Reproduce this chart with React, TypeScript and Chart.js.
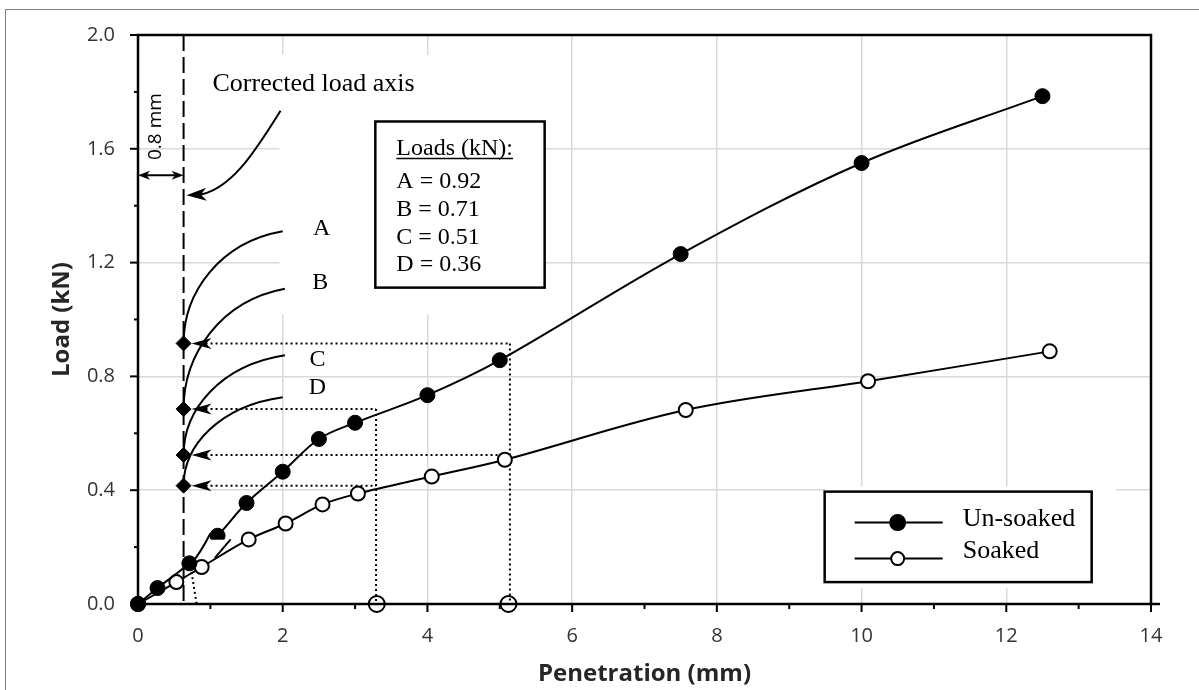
import { useEffect, useRef } from 'react';
import { Chart, registerables } from 'chart.js';

Chart.register(...registerables);

// ---- data ----
const unsoakedX = [0, 0.27, 0.71, 1.1, 1.5, 2.0, 2.5, 3.0, 4.0, 5.0, 7.5, 10.0, 12.5];
const unsoakedY = [0, 0.056, 0.143, 0.24, 0.355, 0.465, 0.58, 0.637, 0.734, 0.857, 1.23, 1.55, 1.785];

const soakedX = [0, 0.53, 0.88, 1.53, 2.04, 2.55, 3.04, 4.06, 5.07, 7.57, 10.09, 12.6];
const soakedY = [0, 0.077, 0.13, 0.227, 0.283, 0.35, 0.388, 0.448, 0.507, 0.682, 0.783, 0.888];

// corrected load axis and the corrected loads
const correctedAxisX = 0.63;
const diamondY = [0.916, 0.685, 0.524, 0.416];
const dottedEndX = [5.14, 3.29, 5.14, 3.29];
const axisMarkX = [3.3, 5.12];
const curveLabels = ['A', 'B', 'C', 'D'];
const curveEndX = [2.0, 2.03, 2.03, 2.0];
const curveEndY = [1.31, 1.108, 0.874, 0.727];
const curveLabelX = [2.54, 2.52, 2.48, 2.48];
const curveLabelY = [1.318, 1.129, 0.86, 0.759];
const loadsTitle = 'Loads (kN):';
const loadsLines = ['A = 0.92', 'B = 0.71', 'C = 0.51', 'D = 0.36'];
const seriesNames = ['Un-soaked', 'Soaked'];

const xTickLabels = ['0', '2', '4', '6', '8', '10', '12', '14'];
const yTickLabels = ['0.0', '0.4', '0.8', '1.2', '1.6', '2.0'];

const SERIF = '"Liberation Serif", "Times New Roman", serif';
const SANS = '"Open Sans", "Noto Sans", sans-serif';

function isMajorY(v: number) {
  return Math.round(v * 10) % 4 === 0;
}

function stealth(ctx: CanvasRenderingContext2D, tx: number, ty: number, dx: number, dy: number, len: number, half: number) {
  const m = Math.hypot(dx, dy) || 1;
  dx /= m; dy /= m;
  const bx = tx - dx * len, by = ty - dy * len;
  const nx = -dy, ny = dx;
  ctx.beginPath();
  ctx.moveTo(tx, ty);
  ctx.lineTo(bx + nx * half, by + ny * half);
  ctx.lineTo(tx - dx * len * 0.72, ty - dy * len * 0.72);
  ctx.lineTo(bx - nx * half, by - ny * half);
  ctx.closePath();
  ctx.fill();
}

const annotations = {
  id: 'annotations',
  beforeDatasetsDraw(chart: any) {
    const ctx: CanvasRenderingContext2D = chart.ctx;
    const xs = chart.scales.x, ys = chart.scales.y;
    const px = (v: number) => xs.getPixelForValue(v);
    const py = (v: number) => ys.getPixelForValue(v);
    const { left, right, top, bottom } = chart.chartArea;
    ctx.save();

    // white areas behind text objects (hide the gridlines like the original)
    const masks = [
      [0.795, 4.25, 1.727, 1.93],
      [1.955, 5.62, 1.017, 1.734],
      [9.49, 13.52, 0.056, 0.413],
    ];
    ctx.fillStyle = '#ffffff';
    for (const m of masks) {
      ctx.fillRect(px(m[0]), py(m[3]), px(m[1]) - px(m[0]), py(m[2]) - py(m[3]));
    }

    // plot frame
    ctx.strokeStyle = '#000';
    ctx.lineWidth = 2.5;
    ctx.setLineDash([]);
    ctx.strokeRect(left, top, right - left, bottom - top);
    ctx.beginPath();
    ctx.moveTo(right, bottom);
    ctx.lineTo(right + 9, bottom);
    ctx.stroke();

    // tick marks
    ctx.lineWidth = 2;
    for (let i = 0; i <= 10; i++) {
      const v = i * 0.2;
      const y = py(v);
      const len = i % 2 === 0 ? 8 : 4;
      ctx.beginPath();
      ctx.moveTo(left - len, y);
      ctx.lineTo(left, y);
      ctx.stroke();
    }
    for (let i = 0; i <= 14; i++) {
      const x = px(i);
      const len = i % 2 === 0 ? 8 : 5;
      ctx.beginPath();
      ctx.moveTo(x, bottom);
      ctx.lineTo(x, bottom + len);
      ctx.stroke();
    }

    // corrected load axis (dashed)
    const ax = px(correctedAxisX);
    ctx.lineWidth = 2;
    ctx.setLineDash([16, 6]);
    ctx.beginPath();
    ctx.moveTo(ax, top);
    ctx.lineTo(ax, bottom);
    ctx.stroke();

    // dotted projection lines
    ctx.setLineDash([2, 3]);
    const arrowBack = px(0.74) + 14;
    diamondY.forEach((d, i) => {
      ctx.beginPath();
      ctx.moveTo(arrowBack, py(d));
      ctx.lineTo(px(dottedEndX[i]), py(d));
      ctx.stroke();
    });
    const drops: Record<string, number> = {};
    diamondY.forEach((d, i) => {
      const k = String(dottedEndX[i]);
      drops[k] = Math.max(drops[k] ?? 0, d);
    });
    Object.keys(drops).forEach((k) => {
      ctx.beginPath();
      ctx.moveTo(px(Number(k)), py(drops[k]));
      ctx.lineTo(px(Number(k)), bottom);
      ctx.stroke();
    });
    ctx.setLineDash([]);

    // curves A-D
    ctx.lineWidth = 2;
    diamondY.forEach((d, i) => {
      const x0 = ax, y0 = py(d);
      const x1 = px(curveEndX[i]), y1 = py(curveEndY[i]);
      const dy = y0 - y1;
      ctx.beginPath();
      ctx.moveTo(x0, y0);
      ctx.bezierCurveTo(x0, y0 - 0.45 * dy, x0 + 0.36 * (x1 - x0), y1 + 0.1 * dy, x1, y1);
      ctx.stroke();
    });

    // labels A-D
    ctx.fillStyle = '#000';
    ctx.font = '24px ' + SERIF;
    ctx.textAlign = 'center';
    ctx.textBaseline = 'middle';
    curveLabels.forEach((t, i) => ctx.fillText(t, px(curveLabelX[i]), py(curveLabelY[i])));

    // "Corrected load axis" text and curved arrow
    ctx.font = '26px ' + SERIF;
    ctx.textAlign = 'left';
    ctx.textBaseline = 'alphabetic';
    ctx.fillText('Corrected load axis', px(1.03), py(1.804));
    const c0 = [px(1.97), py(1.734)], c1 = [px(1.61), py(1.587)], c2 = [px(1.265), py(1.448)], c3 = [px(0.67), py(1.437)];
    ctx.beginPath();
    ctx.moveTo(c0[0], c0[1]);
    ctx.bezierCurveTo(c1[0], c1[1], c2[0], c2[1], c3[0] + 10, c3[1]);
    ctx.stroke();
    stealth(ctx, c3[0], c3[1], c3[0] - c2[0], c3[1] - c2[1] - 1, 20, 6.5);

    // 0.8 mm double arrow
    const ay = py(1.507);
    ctx.lineWidth = 1.8;
    ctx.beginPath();
    ctx.moveTo(px(0) + 6, ay);
    ctx.lineTo(ax - 6, ay);
    ctx.stroke();
    stealth(ctx, px(0), ay, -1, 0, 12, 4.5);
    stealth(ctx, ax, ay, 1, 0, 12, 4.5);
    ctx.save();
    ctx.translate(px(0.24), py(1.678));
    ctx.rotate(-Math.PI / 2);
    ctx.font = '19px ' + SANS;
    ctx.textAlign = 'center';
    ctx.textBaseline = 'middle';
    ctx.fillStyle = '#000';
    ctx.fillText('0.8 mm', 0, 0);
    ctx.restore();

    // loads box
    const bl = px(3.28), bt = py(1.696), br = px(5.62), bb = py(1.112);
    ctx.fillStyle = '#fff';
    ctx.fillRect(bl, bt, br - bl, bb - bt);
    ctx.lineWidth = 2.5;
    ctx.strokeStyle = '#000';
    ctx.strokeRect(bl, bt, br - bl, bb - bt);
    ctx.fillStyle = '#000';
    ctx.font = '24px ' + SERIF;
    ctx.textAlign = 'left';
    ctx.textBaseline = 'alphabetic';
    ctx.fillText(loadsTitle, bl + 21, bt + 34);
    const tw = ctx.measureText(loadsTitle).width;
    ctx.lineWidth = 1.5;
    ctx.beginPath();
    ctx.moveTo(bl + 21, bt + 37);
    ctx.lineTo(bl + 21 + tw, bt + 37);
    ctx.stroke();
    const offs = [67, 95, 123, 150];
    loadsLines.forEach((t, i) => ctx.fillText(t, bl + 21, bt + offs[i]));

    // legend
    const ll = px(9.49), lt = py(0.395), lr = px(13.18), lb = py(0.077);
    ctx.fillStyle = '#fff';
    ctx.fillRect(ll, lt, lr - ll, lb - lt);
    ctx.lineWidth = 2.5;
    ctx.strokeRect(ll, lt, lr - ll, lb - lt);
    const rows = [31, 67];
    rows.forEach((dy, i) => {
      ctx.lineWidth = 2;
      ctx.strokeStyle = '#000';
      ctx.beginPath();
      ctx.moveTo(ll + 30, lt + dy);
      ctx.lineTo(ll + 118, lt + dy);
      ctx.stroke();
      ctx.beginPath();
      ctx.arc(ll + 73, lt + dy, i === 0 ? 7.5 : 6.5, 0, Math.PI * 2);
      ctx.fillStyle = i === 0 ? '#000' : '#fff';
      ctx.fill();
      ctx.stroke();
    });
    ctx.fillStyle = '#000';
    ctx.font = '26px ' + SERIF;
    ctx.textAlign = 'left';
    ctx.textBaseline = 'alphabetic';
    ctx.fillText(seriesNames[0], ll + 138, lt + 34);
    ctx.fillText(seriesNames[1], ll + 138, lt + 66);

    ctx.restore();
  },
  afterDatasetsDraw(chart: any) {
    const ctx: CanvasRenderingContext2D = chart.ctx;
    const xs = chart.scales.x, ys = chart.scales.y;
    const px = (v: number) => xs.getPixelForValue(v);
    const py = (v: number) => ys.getPixelForValue(v);
    ctx.save();
    ctx.fillStyle = '#000';
    ctx.strokeStyle = '#000';
    // arrowheads pointing at the corrected loads
    diamondY.forEach((d) => stealth(ctx, px(0.74), py(d), -1, 0, 20, 5.5));

    // half-hidden marker near 1.1 mm
    const hx = px(unsoakedX[3]), hy = py(unsoakedY[3]);
    ctx.fillStyle = '#fff';
    ctx.fillRect(hx - 10, hy + 4, 20, 8);

    // small correction curves near the origin
    ctx.lineWidth = 2;
    ctx.beginPath();
    ctx.moveTo(px(0.71), py(0.133));
    ctx.quadraticCurveTo(px(0.86), py(0.178), px(1.0), py(0.248));
    ctx.stroke();
    ctx.beginPath();
    ctx.moveTo(px(1.06), py(0.161));
    ctx.lineTo(px(1.28), py(0.227));
    ctx.stroke();
    ctx.setLineDash([2, 3]);
    ctx.beginPath();
    ctx.moveTo(px(0.74), py(0.112));
    ctx.lineTo(px(0.81), py(0));
    ctx.stroke();
    ctx.restore();
  },
};

export default function App() {
  const ref = useRef<HTMLCanvasElement>(null);

  useEffect(() => {
    const canvas = ref.current;
    if (!canvas) return;
    const chart = new Chart(canvas, {
      type: 'line',
      data: {
        datasets: [
          {
            label: seriesNames[0],
            data: unsoakedX.map((x, i) => ({ x, y: unsoakedY[i] })),
            borderColor: '#000',
            borderWidth: 2,
            backgroundColor: '#000',
            pointBackgroundColor: '#000',
            pointBorderColor: '#000',
            pointRadius: 7.5,
            pointBorderWidth: 1,
            tension: 0.35,
            clip: false as any,
            segment: {
              borderColor: (c: any) => (c.p0DataIndex === 2 ? 'rgba(0,0,0,0)' : '#000'),
            },
          },
          {
            label: seriesNames[1],
            data: soakedX.map((x, i) => ({ x, y: soakedY[i] })),
            borderColor: '#000',
            borderWidth: 2,
            backgroundColor: '#fff',
            pointBackgroundColor: '#fff',
            pointBorderColor: '#000',
            pointRadius: 7,
            pointBorderWidth: 2,
            tension: 0.35,
            clip: false as any,
          },
          {
            label: 'corrected',
            data: diamondY.map((y) => ({ x: correctedAxisX, y })),
            showLine: false,
            pointStyle: 'rectRot',
            pointRadius: 7.5,
            pointBackgroundColor: '#000',
            pointBorderColor: '#000',
            borderColor: '#000',
            clip: false as any,
          },
          {
            label: 'axis',
            data: axisMarkX.map((x) => ({ x, y: 0 })),
            showLine: false,
            pointRadius: 8,
            pointBorderWidth: 2,
            pointBackgroundColor: 'rgba(0,0,0,0)',
            pointBorderColor: '#000',
            borderColor: '#000',
            clip: false as any,
          },
        ],
      },
      options: {
        responsive: false,
        animation: false,
        events: [],
        layout: { padding: { left: 38, right: 48, top: 33, bottom: 0 } },
        plugins: { legend: { display: false }, tooltip: { enabled: false } },
        scales: {
          x: {
            type: 'linear',
            min: 0,
            max: 14,
            afterFit: (s: any) => { s.height = 86; },
            border: { display: false },
            grid: {
              drawTicks: false,
              lineWidth: 1.5,
              color: (c: any) => (c.tick && Math.round(c.tick.value) % 2 === 0 ? '#d9d9d9' : 'rgba(0,0,0,0)'),
            },
            ticks: {
              stepSize: 1,
              autoSkip: false,
              maxRotation: 0,
              padding: 20,
              color: '#333333',
              font: { family: SANS, size: 20 },
              callback: (v: any) => {
                const n = Math.round(Number(v));
                return n % 2 === 0 ? xTickLabels[n / 2] : '';
              },
            },
            title: {
              display: true,
              text: 'Penetration (mm)',
              color: '#262626',
              font: { family: SANS, size: 24, weight: 'bold' },
              padding: { top: 0, bottom: 1 },
            },
          },
          y: {
            min: 0,
            max: 2,
            afterFit: (s: any) => { s.width = 100; },
            border: { display: false },
            grid: {
              drawTicks: false,
              lineWidth: 1.5,
              color: (c: any) => (c.tick && isMajorY(c.tick.value) ? '#d9d9d9' : 'rgba(0,0,0,0)'),
            },
            ticks: {
              stepSize: 0.2,
              autoSkip: false,
              padding: 23,
              color: '#333333',
              font: { family: SANS, size: 20 },
              callback: (v: any) => {
                const n = Math.round(Number(v) * 10);
                return n % 4 === 0 ? yTickLabels[n / 4] : '';
              },
            },
            title: {
              display: true,
              text: 'Load (kN)',
              color: '#262626',
              font: { family: SANS, size: 24, weight: 'bold' },
              padding: { top: 10, bottom: 0 },
            },
          },
        },
      },
      plugins: [annotations],
    } as any);
    return () => chart.destroy();
  }, []);

  return (
    <div style={{ position: 'absolute', left: 0, top: 0, width: 1199, height: 690, overflow: 'hidden', background: '#fff' }}>
      <div
        style={{
          position: 'absolute',
          left: 5,
          top: 9,
          width: 1300,
          height: 800,
          borderLeft: '1px solid #808080',
          borderTop: '1px solid #808080',
        }}
      />
      <canvas ref={ref} width={1199} height={690} style={{ position: 'absolute', left: 0, top: 0, width: 1199, height: 690 }} />
    </div>
  );
}
